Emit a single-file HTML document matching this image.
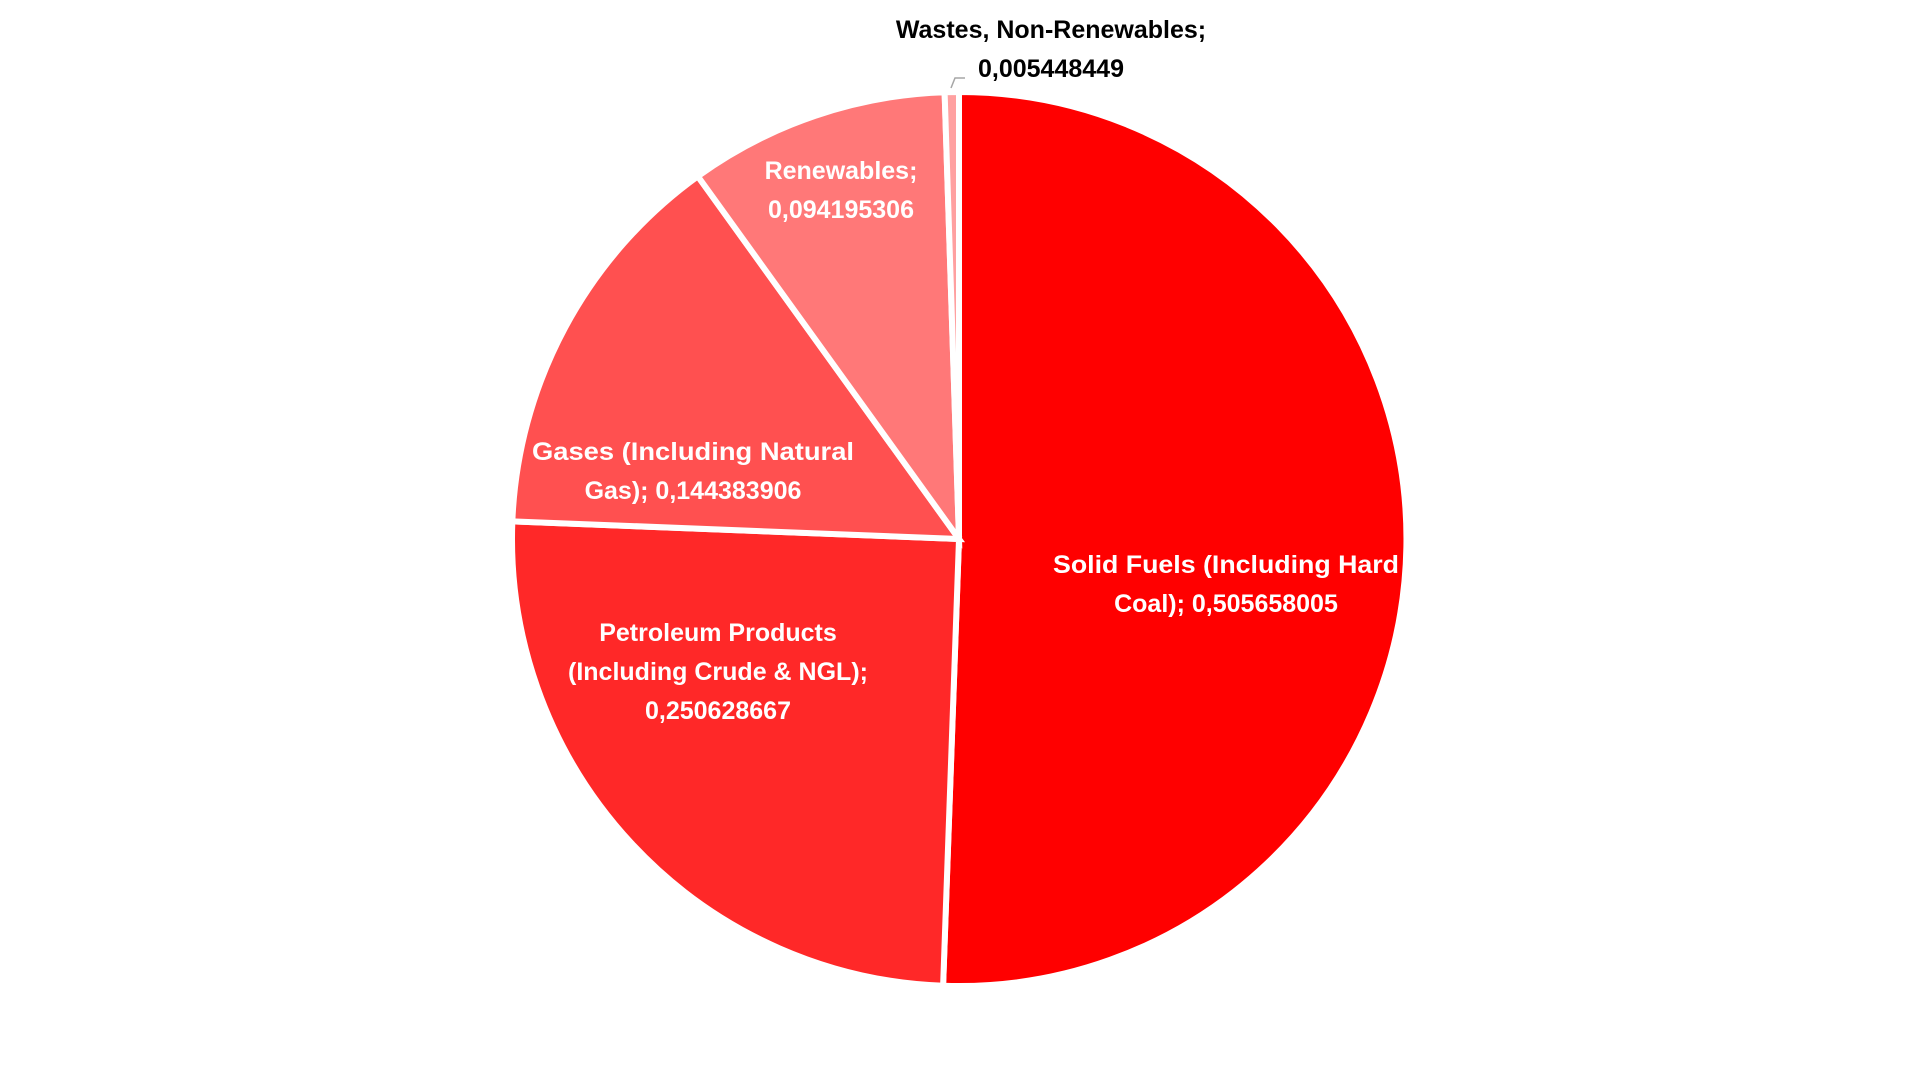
<!DOCTYPE html>
<html><head><meta charset="utf-8"><style>
html,body{margin:0;padding:0;background:#fff;width:1920px;height:1080px;overflow:hidden}
text{font-family:"Liberation Sans",sans-serif;font-weight:bold;font-size:25px;text-anchor:middle}
</style></head><body>
<svg width="1920" height="1080" viewBox="0 0 1920 1080" xmlns="http://www.w3.org/2000/svg">
<g stroke="#fff" stroke-width="6" stroke-linejoin="miter">
<path d="M959,539 L959,92 A447,447 0 1 1 943.1,985.7 Z" fill="#FF0000"/>
<path d="M959,539 L943.1,985.7 A447,447 0 0 1 512.35,521.34 Z" fill="#FF2828"/>
<path d="M959,539 L512.35,521.34 A447,447 0 0 1 697.8,176.3 Z" fill="#FF5050"/>
<path d="M959,539 L697.8,176.3 A447,447 0 0 1 944.6,92.2 Z" fill="#FF7878"/>
<path d="M959,539 L944.6,92.2 A447,447 0 0 1 959,92 Z" fill="#FFA0A0"/>
</g>
<polyline points="951,88 955,78 965,78" fill="none" stroke="#a6a6a6" stroke-width="1.5"/>
<g fill="#000">
<text x="1051" y="38">Wastes, Non-Renewables;</text>
<text x="1051" y="77">0,005448449</text>
</g>
<g fill="#fff">
<text x="841" y="179">Renewables;</text>
<text x="841" y="218">0,094195306</text>
<text x="693" y="460" textLength="322" lengthAdjust="spacingAndGlyphs">Gases (Including Natural</text>
<text x="693" y="499">Gas); 0,144383906</text>
<text x="718" y="641">Petroleum Products</text>
<text x="718" y="680">(Including Crude &amp; NGL);</text>
<text x="718" y="719">0,250628667</text>
<text x="1226" y="573" textLength="346" lengthAdjust="spacingAndGlyphs">Solid Fuels (Including Hard</text>
<text x="1226" y="612">Coal); 0,505658005</text>
</g>
</svg>
</body></html>
